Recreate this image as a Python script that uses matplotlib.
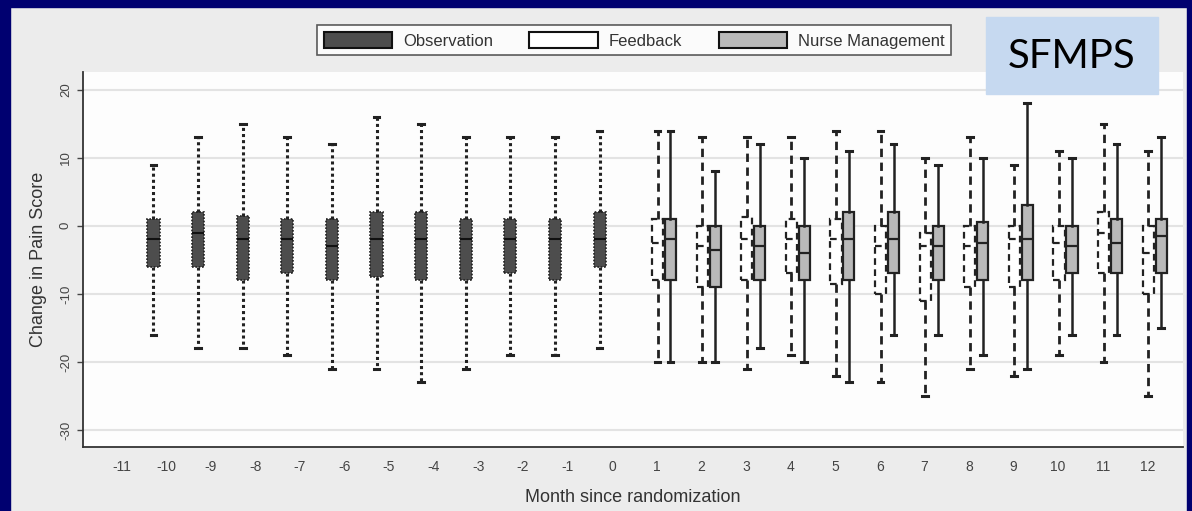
import matplotlib
matplotlib.use('Agg')
import matplotlib.pyplot as plt
from matplotlib.patches import Patch, Rectangle

plt.rcParams['font.family'] = ['Liberation Sans', 'DejaVu Sans']
plt.rcParams['axes.unicode_minus'] = False

# Observation period (months -10 .. 0)
obs_months = [-10, -9, -8, -7, -6, -5, -4, -3, -2, -1, 0]
obs_whislo = [-16, -18, -18, -19, -21, -21, -23, -21, -19, -19, -18]
obs_q1 = [-6, -6, -8, -7, -8, -7.5, -8, -8, -7, -8, -6]
obs_med = [-2, -1, -2, -2, -3, -2, -2, -2, -2, -2, -2]
obs_q3 = [1, 2, 1.5, 1, 1, 2, 2, 1, 1, 1, 2]
obs_whishi = [9, 13, 15, 13, 12, 16, 15, 13, 13, 13, 14]

# Intervention period (months 1 .. 12)
int_months = [1, 2, 3, 4, 5, 6, 7, 8, 9, 10, 11, 12]
fb_whislo = [-20, -20, -21, -19, -22, -23, -25, -21, -22, -19, -20, -25]
fb_q1 = [-8, -9, -8, -7, -8.5, -10, -11, -9, -9, -8, -7, -10]
fb_med = [-2.5, -3, -2, -2, -2, -3, -3, -3, -2, -2.5, -1, -4]
fb_q3 = [1, 0, 1.3, 1, 1, 0, -1, 0, 0, 0, 2, 0]
fb_whishi = [14, 13, 13, 13, 14, 14, 10, 13, 9, 11, 15, 11]

nm_whislo = [-20, -20, -18, -20, -23, -16, -16, -19, -21, -16, -16, -15]
nm_q1 = [-8, -9, -8, -8, -8, -7, -8, -8, -8, -7, -7, -7]
nm_med = [-2, -3.5, -3, -4, -2, -2, -3, -2.5, -2, -3, -2.5, -1.5]
nm_q3 = [1, 0, 0, 0, 2, 2, 0, 0.5, 3, 0, 1, 1]
nm_whishi = [14, 8, 12, 10, 11, 12, 9, 10, 18, 10, 12, 13]

month_ticks = list(range(-11, 13))
y_ticks = [20, 10, 0, -10, -20, -30]
legend_labels = ['Observation', 'Feedback', 'Nurse Management']


def make_stats(lo, q1, med, q3, hi):
    return [dict(whislo=a, q1=b, med=c, q3=d, whishi=e, fliers=[])
            for a, b, c, d, e in zip(lo, q1, med, q3, hi)]


W, H = 1192, 511
navy = '#000070'
fig = plt.figure(figsize=(W / 100, H / 100), dpi=100, facecolor='#ececec')

# dark blue slide frame
for (x0, y0, w, h) in [(0, 0, 10, H), (0, 0, W, 7), (W - 5, 0, 5, H)]:
    fig.patches.append(Rectangle((x0 / W, 1 - (y0 + h) / H), w / W, h / H,
                                 transform=fig.transFigure, color=navy, zorder=0))

ax = fig.add_axes([83 / W, 1 - 447 / H, 1100 / W, 375 / H])
ax.set_facecolor('#fdfdfd')
ax.set_axisbelow(True)

obs_color = '#4d4d4d'
nm_color = '#b9b9b9'
dark = '#222222'

ax.bxp(make_stats(obs_whislo, obs_q1, obs_med, obs_q3, obs_whishi),
       positions=[m - 0.28 for m in obs_months], widths=0.27, capwidths=0.13,
       patch_artist=True, showfliers=False, manage_ticks=False,
       boxprops=dict(facecolor=obs_color, edgecolor=dark, linewidth=1.2, linestyle=(0, (1, 1))),
       whiskerprops=dict(color=dark, linewidth=2.2, linestyle=(0, (1, 1))),
       capprops=dict(color=dark, linewidth=2.2),
       medianprops=dict(color='#111111', linewidth=1.5))

ax.bxp(make_stats(fb_whislo, fb_q1, fb_med, fb_q3, fb_whishi),
       positions=[m + 0.02 for m in int_months], widths=0.25, capwidths=0.13,
       patch_artist=True, showfliers=False, manage_ticks=False,
       boxprops=dict(facecolor='white', edgecolor=dark, linewidth=1.6, linestyle=(0, (3, 2))),
       whiskerprops=dict(color=dark, linewidth=2.0, linestyle=(0, (3, 2))),
       capprops=dict(color=dark, linewidth=2.2),
       medianprops=dict(color=dark, linewidth=1.6, linestyle=(0, (3, 2))))

ax.bxp(make_stats(nm_whislo, nm_q1, nm_med, nm_q3, nm_whishi),
       positions=[m + 0.31 for m in int_months], widths=0.25, capwidths=0.13,
       patch_artist=True, showfliers=False, manage_ticks=False,
       boxprops=dict(facecolor=nm_color, edgecolor=dark, linewidth=1.6),
       whiskerprops=dict(color=dark, linewidth=1.8),
       capprops=dict(color=dark, linewidth=2.2),
       medianprops=dict(color=dark, linewidth=1.6))

ax.set_xlim(-11.86, 12.80)
ax.set_ylim(-32.5, 22.6)
ax.set_xticks(month_ticks)
ax.set_xticklabels([str(m) for m in month_ticks])
ax.set_yticks(y_ticks)
ax.set_yticklabels([str(v) for v in y_ticks], rotation=90, va='center')
ax.tick_params(axis='x', length=0, pad=9, labelsize=10, labelcolor='#444444')
ax.tick_params(axis='y', length=4, width=1, color='#444444', pad=4, labelsize=9.5, labelcolor='#444444')
ax.yaxis.grid(True, color='#e3e3e3', linewidth=1.5)

for side in ['top', 'right']:
    ax.spines[side].set_visible(False)
for side in ['left', 'bottom']:
    ax.spines[side].set_color('#333333')
    ax.spines[side].set_linewidth(1.3)

ax.set_xlabel('Month since randomization', fontsize=13, color='#333333', labelpad=11)
ax.set_ylabel('Change in Pain Score', fontsize=13, color='#333333', labelpad=9)

handles = [Patch(facecolor=obs_color, edgecolor='#111111', linewidth=1.5),
           Patch(facecolor='white', edgecolor='#111111', linewidth=1.5),
           Patch(facecolor=nm_color, edgecolor='#111111', linewidth=1.5)]
leg = fig.legend(handles, legend_labels, ncol=3, loc='center',
                 bbox_to_anchor=(634 / W, 1 - 40.5 / H), fontsize=12,
                 frameon=True, fancybox=False, edgecolor='#333333',
                 handlelength=4.1, handleheight=1.1, columnspacing=2.2,
                 handletextpad=0.65, borderpad=0.4)
leg.get_frame().set_linewidth(1.2)
for t in leg.get_texts():
    t.set_color('#333333')

# SFMPS tag
fig.patches.append(Rectangle((986 / W, 1 - 94 / H), 172 / W, 77 / H,
                             transform=fig.transFigure, color='#c6d9f0', zorder=5))
fig.text(1072 / W, 1 - 56 / H, 'SFMPS', fontsize=29, family=['Lato', 'DejaVu Sans'],
         ha='center', va='center', color='black', zorder=6)

fig.savefig('out.png', dpi=100, facecolor=fig.get_facecolor())
